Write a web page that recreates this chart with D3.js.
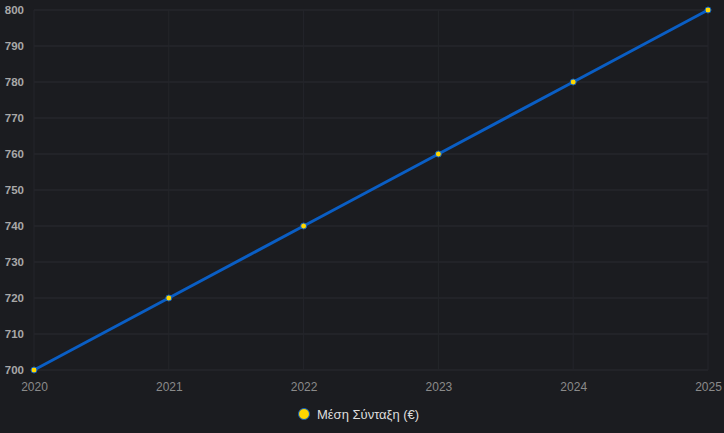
<!DOCTYPE html>
<html><head><meta charset="utf-8">
<script src="https://cdn.jsdelivr.net/npm/d3@7"></script>
<style>body{margin:0;background:#1b1c20;}svg{display:block;font-family:"Liberation Sans",Arial,sans-serif;}</style>
</head><body>
<svg id="c" width="724" height="433"></svg>
<script>
const years = ["2020","2021","2022","2023","2024","2025"];
const values = [700,720,740,760,780,800];
const yTicks = [700,710,720,730,740,750,760,770,780,790,800];
const seriesName = "Μέση Σύνταξη (€)";

const svg = d3.select("#c");
svg.append("rect").attr("width",724).attr("height",433).attr("fill","#1b1c20");
const x = d3.scalePoint().domain(years).range([34,708]);
const y = d3.scaleLinear().domain([700,800]).range([370,10]);

const g = svg.append("g");
g.selectAll(".hg").data(yTicks).join("line")
 .attr("x1",34).attr("x2",708).attr("y1",d=>y(d)).attr("y2",d=>y(d))
 .attr("stroke","#2a2b30").attr("stroke-width",1);
g.selectAll(".vg").data(years).join("line")
 .attr("x1",d=>x(d)).attr("x2",d=>x(d)).attr("y1",10).attr("y2",370)
 .attr("stroke","#24252a").attr("stroke-width",1);

const ya = svg.append("g").attr("transform","translate(34,0)")
 .call(d3.axisLeft(y).tickValues(yTicks).tickSize(0).tickPadding(10));
ya.select(".domain").remove();
ya.selectAll("text").attr("fill","#a8a8a8").attr("font-size",11.5).attr("font-weight","bold");

const xa = svg.append("g").attr("transform","translate(0,370)")
 .call(d3.axisBottom(x).tickSize(0).tickPadding(12));
xa.select(".domain").remove();
xa.selectAll("text").attr("fill","#8a8a8a").attr("font-size",12);

const data = years.map((yr,i)=>({yr,v:values[i]}));
svg.append("path").datum(data)
 .attr("d",d3.line().x(d=>x(d.yr)).y(d=>y(d.v)))
 .attr("fill","none").attr("stroke","#0a5ec4").attr("stroke-width",3);
svg.selectAll(".pt").data(data).join("circle")
 .attr("cx",d=>x(d.yr)).attr("cy",d=>y(d.v)).attr("r",3)
 .attr("fill","#ffd700").attr("stroke","#0a5ec4").attr("stroke-width",1);

const lg = svg.append("g");
lg.append("circle").attr("cx",304).attr("cy",414).attr("r",5.5)
 .attr("fill","#ffd700").attr("stroke","#0a5ec4").attr("stroke-width",1);
lg.append("text").attr("x",317).attr("y",419).attr("fill","#dddddd")
 .attr("font-size",13).text(seriesName);
</script>
</body></html>
